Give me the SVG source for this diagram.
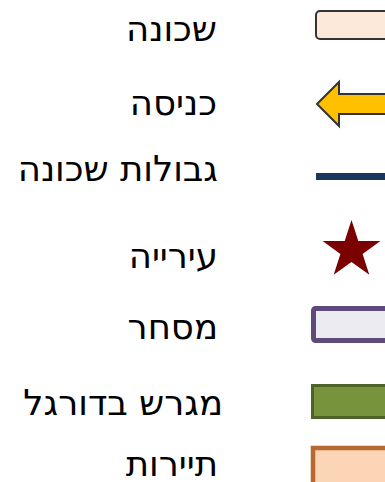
<svg xmlns="http://www.w3.org/2000/svg" width="385" height="482" viewBox="0 0 385 482">
<style>
.lbl{font-family:"DejaVu Sans","Noto Sans",sans-serif;font-size:35.5px;fill:#000;text-anchor:end}
</style>
<rect width="385" height="482" fill="#fff"/>
<g id="neighborhood">
<rect x="316" y="11" width="80" height="28" rx="4" fill="#FDE9D9" stroke="#333" stroke-width="2"/>
<text class="lbl" x="217" y="41">שכונה</text>
</g>
<g id="entrance">
<polygon points="317,104 339,82 339,94 392,94 392,114 339,114 339,126" fill="#FFC000" stroke="#333" stroke-width="2" stroke-linejoin="miter"/>
<text class="lbl" x="217" y="115">כניסה</text>
</g>
<g id="borders">
<rect x="316" y="173" width="75" height="7" fill="#17375E"/>
<text class="lbl" x="218" y="181">גבולות שכונה</text>
</g>
<g id="municipality">
<polygon points="351.5,220 358.3,240.9 380.4,240.9 362.6,253.9 369.3,274.8 351.5,261.9 333.7,274.8 340.4,253.9 322.6,240.9 344.7,240.9" fill="#7B0000"/>
<text class="lbl" x="218" y="268">עירייה</text>
</g>
<g id="commerce">
<rect x="313.5" y="308.5" width="80" height="32" rx="2" fill="#EDEBF2" stroke="#604A7B" stroke-width="5"/>
<text class="lbl" x="218" y="339">מסחר</text>
</g>
<g id="football">
<rect x="312.5" y="385.5" width="80" height="32" fill="#77933C" stroke="#4F6228" stroke-width="3"/>
<text class="lbl" x="223" y="415">מגרש בדורגל</text>
</g>
<g id="tourism">
<rect x="313" y="448" width="80" height="40" fill="#FBD5B5" stroke="#B7692F" stroke-width="4.5"/>
<text class="lbl" x="218" y="476">תיירות</text>
</g>
</svg>
